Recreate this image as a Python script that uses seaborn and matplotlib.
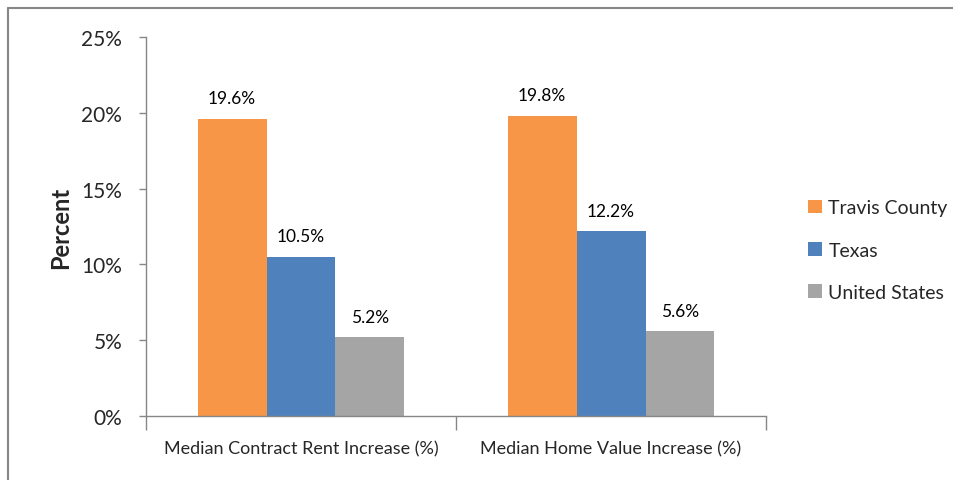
import pandas as pd
import matplotlib.pyplot as plt
import matplotlib.ticker as mticker
import matplotlib.lines as mlines
import seaborn as sns

metrics = ['Median Contract Rent Increase (%)', 'Median Home Value Increase (%)']
areas = ['Travis County', 'Texas', 'United States']
travis = [19.6, 19.8]
texas = [10.5, 12.2]
us = [5.2, 5.6]
colors = ['#F79646', '#4F81BD', '#A5A5A5']

rows = []
for area, vals in zip(areas, [travis, texas, us]):
    for m, v in zip(metrics, vals):
        rows.append({'Metric': m, 'Area': area, 'Value': v})
df = pd.DataFrame(rows)

sns.set_style('white')
plt.rcParams['font.family'] = ['Lato', 'DejaVu Sans']

fig = plt.figure(figsize=(9.54, 4.81), dpi=100)
ax = fig.add_axes([0.153, 0.133, 0.650, 0.788])

sns.barplot(data=df, x='Metric', y='Value', hue='Area', order=metrics,
            hue_order=areas, palette=colors, width=0.667, saturation=1,
            linewidth=0, ax=ax, legend=True)

for cont in ax.containers:
    for bar in cont:
        h = bar.get_height()
        ax.annotate(f'{h:.1f}%', (bar.get_x() + bar.get_width() / 2, h),
                    xytext=(0, 9), textcoords='offset points',
                    ha='center', va='bottom', fontsize=12.5, color='#000000')

ax.set_ylim(0, 25)
ax.set_xlim(-0.5, 1.5)
ax.yaxis.set_major_locator(mticker.MultipleLocator(5))
ax.yaxis.set_major_formatter(mticker.FuncFormatter(lambda v, p: f'{v:.0f}%'))
ax.tick_params(axis='y', which='major', left=True, length=5, width=1,
               color='#868686', labelsize=15, pad=12)
ax.tick_params(axis='x', which='major', bottom=False, labelsize=13, pad=14)
ax.set_xticks([-0.5, 0.5, 1.5], minor=True)
ax.tick_params(axis='x', which='minor', bottom=True, length=10, width=1,
               color='#868686')

for s in ['top', 'right']:
    ax.spines[s].set_visible(False)
for s in ['left', 'bottom']:
    ax.spines[s].set_color('#868686')
    ax.spines[s].set_linewidth(1)

ax.set_xlabel('')
ax.set_ylabel('Percent', fontsize=17, fontweight='bold', labelpad=7)

handles, labels = ax.get_legend_handles_labels()
ax.legend(handles, labels, loc='center left', bbox_to_anchor=(0.847, 0.478),
          bbox_transform=fig.transFigure, borderpad=0, borderaxespad=0,
          frameon=False, fontsize=14, handlelength=0.7, handleheight=0.7,
          handletextpad=0.35, labelspacing=1.3)

# outer chart frame (left and top edges)
fig.add_artist(mlines.Line2D([0.0085, 0.0085], [0, 0.981], color='#868686',
                             lw=1.5, transform=fig.transFigure))
fig.add_artist(mlines.Line2D([0.0085, 1.0], [0.981, 0.981], color='#868686',
                             lw=1.5, transform=fig.transFigure))

fig.savefig('out.png', dpi=100)
